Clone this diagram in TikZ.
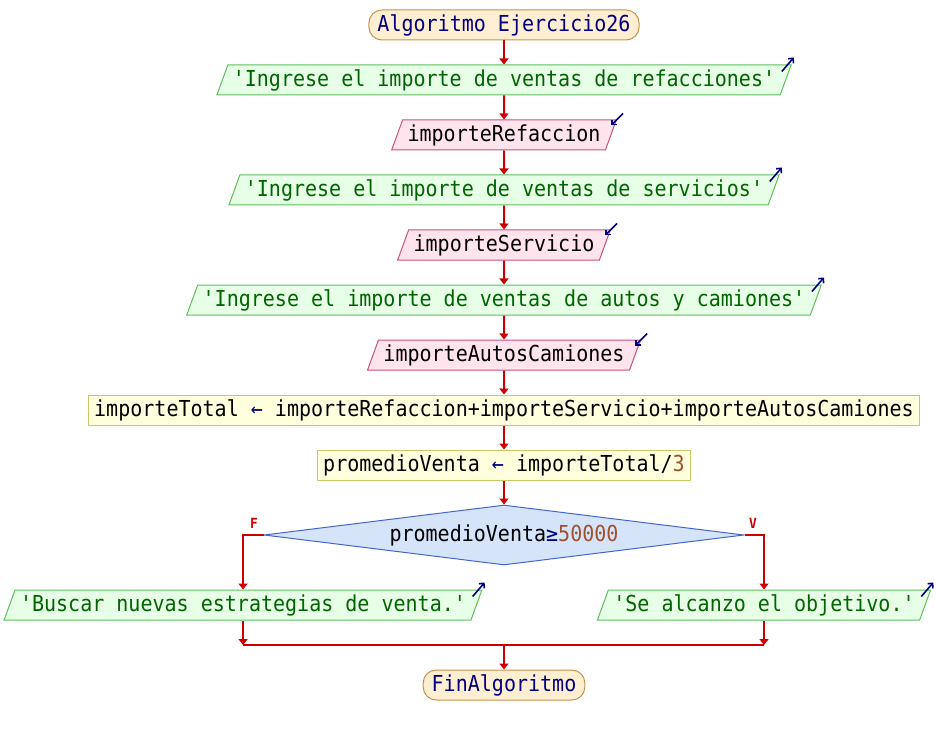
\documentclass[tikz,border=0pt]{standalone}
\usepackage{fontspec}
\setmonofont{DejaVu Sans Mono}[FakeStretch=0.91]
\usetikzlibrary{arrows.meta, shapes.geometric, calc}

\definecolor{flowred}{HTML}{CC0000}
\definecolor{navy}{HTML}{000080}
\definecolor{numbrown}{HTML}{A0522D}
\definecolor{startfill}{HTML}{FFEFD2}
\definecolor{startdraw}{HTML}{C8914B}
\definecolor{outfill}{HTML}{E6FFE6}
\definecolor{outdraw}{HTML}{5FBF5F}
\definecolor{outtext}{HTML}{006400}
\definecolor{infill}{HTML}{FFE4EE}
\definecolor{indraw}{HTML}{C85082}
\definecolor{procfill}{HTML}{FFFFDD}
\definecolor{procdraw}{HTML}{C8C864}
\definecolor{condfill}{HTML}{D6E4FA}
\definecolor{conddraw}{HTML}{4466CC}

\begin{document}
\begin{tikzpicture}[
    x=1pt, y=-1pt,
    every node/.style={font=\ttfamily\fontsize{22}{24}\selectfont,
                text height=16pt, text depth=3pt},
    startbox/.style={rectangle, rounded corners=13pt, draw=startdraw, fill=startfill,
                line width=1pt, inner xsep=8.5pt, inner ysep=5.5pt, text=navy},
    outbox/.style={trapezium, trapezium left angle=70, trapezium right angle=110,
                draw=outdraw, fill=outfill, line width=1pt,
                inner xsep=5pt, inner ysep=5.5pt, text=outtext},
    inbox/.style={trapezium, trapezium left angle=70, trapezium right angle=110,
                draw=indraw, fill=infill, line width=1pt,
                inner xsep=5pt, inner ysep=5.5pt, text=black},
    procbox/.style={rectangle, draw=procdraw, fill=procfill, line width=1pt,
                inner xsep=6pt, inner ysep=5.5pt},
    decision/.style={diamond, aspect=8, draw=conddraw, fill=condfill, line width=1pt,
                minimum width=480pt, minimum height=60pt, inner sep=0pt},
    flow/.style={-{Triangle[length=6pt, width=9pt]}, line width=2pt, draw=flowred},
    joinline/.style={line width=2pt, draw=flowred},
    outmark/.style={-{Straight Barb[length=3.5pt, width=7pt]}, line width=1.6pt, draw=navy},
    inmark/.style={-{Straight Barb[length=3.5pt, width=7pt]}, line width=1.6pt, draw=navy},
    branchlabel/.style={font=\ttfamily\bfseries\fontsize{14}{15}\selectfont, text=flowred,
                inner sep=0pt, text height=10pt, text depth=0pt},
]
\useasboundingbox (0,0) rectangle (936,735);

% nodos del algoritmo
\node[startbox] (inicio) at (504,25) {Algoritmo Ejercicio26};
\node[outbox] (msg1) at (504,80) {'Ingrese el importe de ventas de refacciones'};
\node[inbox] (leer1) at (504,135) {importeRefaccion};
\node[outbox] (msg2) at (504,190) {'Ingrese el importe de ventas de servicios'};
\node[inbox] (leer2) at (504,245) {importeServicio};
\node[outbox] (msg3) at (504,300) {'Ingrese el importe de ventas de autos y camiones'};
\node[inbox] (leer3) at (504,355) {importeAutosCamiones};
\node[procbox] (total) at (504,410) {importeTotal {\color{navy}←} importeRefaccion+importeServicio+importeAutosCamiones};
\node[procbox] (prom) at (504,465) {promedioVenta {\color{navy}←} importeTotal/{\color{numbrown}3}};
\node[decision] (cond) at (504,535) {promedioVenta{\color{navy}≥}{\color{numbrown}50000}};
\node[outbox] (msgF) at (243,605) {'Buscar nuevas estrategias de venta.'};
\node[outbox] (msgV) at (764,605) {'Se alcanzo el objetivo.'};
\node[startbox] (fin) at (504,685) {FinAlgoritmo};

% puntos de union
\coordinate (joinL) at (msgF.south |- 0,645);
\coordinate (joinR) at (msgV.south |- 0,645);
\coordinate (joinC) at (fin.north |- 0,645);

% flechas
\draw[flow] (inicio) -- (msg1);
\draw[flow] (msg1) -- (leer1);
\draw[flow] (leer1) -- (msg2);
\draw[flow] (msg2) -- (leer2);
\draw[flow] (leer2) -- (msg3);
\draw[flow] (msg3) -- (leer3);
\draw[flow] (leer3) -- (total);
\draw[flow] (total) -- (prom);
\draw[flow] (prom) -- (cond);
\draw[flow] (cond.west) -| (msgF.north);
\draw[flow] (cond.east) -| (msgV.north);
\draw[flow] (msgF.south) -- (joinL);
\draw[flow] (msgV.south) -- (joinR);
\draw[joinline] (joinL) -- (joinR);
\draw[flow] (joinC) -- (fin.north);

% etiquetas de rama
\node[branchlabel] (lblF) at (254,523) {F};
\node[branchlabel] (lblV) at (753,523) {V};

% marcas de entrada/salida
\draw[outmark] ($(msg1.top right corner)+(-10,7)$) -- +(12,-14);
\draw[outmark] ($(msg2.top right corner)+(-10,7)$) -- +(12,-14);
\draw[outmark] ($(msg3.top right corner)+(-10,7)$) -- +(12,-14);
\draw[outmark] ($(msgF.top right corner)+(-10,7)$) -- +(12,-14);
\draw[outmark] ($(msgV.top right corner)+(-10,7)$) -- +(12,-14);
\draw[inmark] ($(leer1.top right corner)+(6,-6)$) -- +(-12,12);
\draw[inmark] ($(leer2.top right corner)+(6,-6)$) -- +(-12,12);
\draw[inmark] ($(leer3.top right corner)+(6,-6)$) -- +(-12,12);
\end{tikzpicture}
\end{document}
